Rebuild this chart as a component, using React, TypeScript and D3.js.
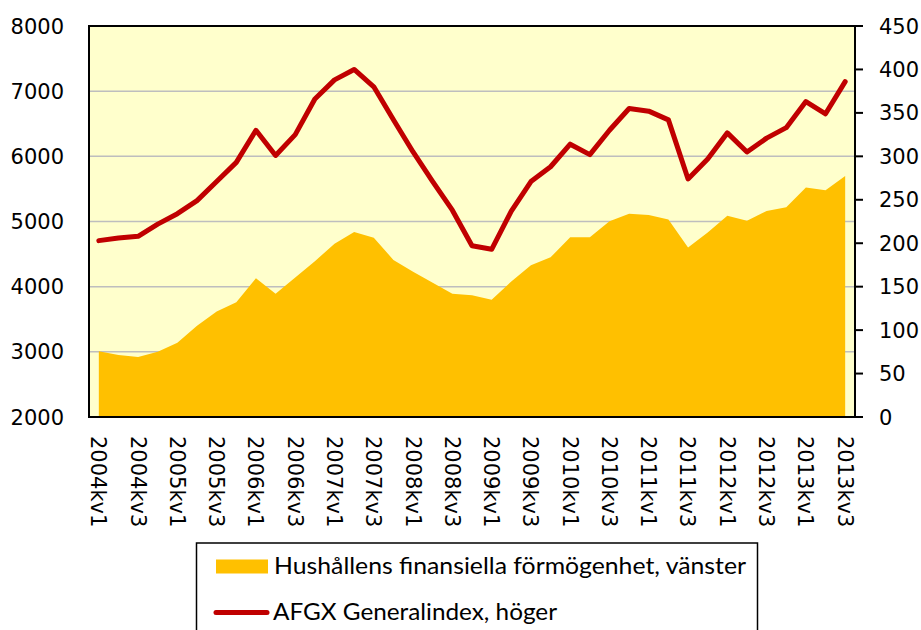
import React from "react";
import * as d3 from "d3";

const years = [2004, 2005, 2006, 2007, 2008, 2009, 2010, 2011, 2012, 2013];
const categories: string[] = [];
years.forEach((y) => [1, 2, 3, 4].forEach((q) => categories.push(`${y}kv${q}`)));
const quarters = categories.slice(0, 39);

const wealth = [
  3010, 2950, 2920, 3000, 3140, 3400, 3620, 3760, 4130, 3890,
  4140, 4390, 4660, 4840, 4750, 4410, 4230, 4060, 3890, 3870,
  3800, 4080, 4330, 4450, 4760, 4760, 5005, 5120, 5100, 5030,
  4600, 4830, 5090, 5010, 5160, 5220, 5520, 5480, 5700,
];
const afgx = [
  203, 206, 208, 222, 234, 249, 271, 293, 330, 301,
  325, 366, 388, 400, 380, 342, 305, 271, 238, 197,
  193, 237, 271, 288, 314, 302, 330, 355, 352, 342,
  274, 297, 327, 305, 321, 333, 363, 349, 386,
];
const leftTicks = [2000, 3000, 4000, 5000, 6000, 7000, 8000];
const rightTicks = [0, 50, 100, 150, 200, 250, 300, 350, 400, 450];
const legendLabels = ["Hushållens finansiella förmögenhet, vänster", "AFGX Generalindex, höger"];

const W = 921, H = 630;
const L = 89, R = 855, T = 26, B = 417;
const tickFont = "'DejaVu Sans', Verdana, sans-serif";
const legendFont = "Lato, 'Open Sans', sans-serif";

export default function App() {
  const x = d3.scaleBand<string>().domain(quarters).range([L, R]).padding(0);
  const cx = (i: number) => (x(quarters[i]) as number) + x.bandwidth() / 2;
  const yL = d3.scaleLinear().domain([2000, 8000]).range([B, T]);
  const yR = d3.scaleLinear().domain([0, 450]).range([B, T]);

  const area = d3
    .area<number>()
    .x((_, i) => cx(i))
    .y0(B)
    .y1((d) => yL(d));
  const line = d3
    .line<number>()
    .x((_, i) => cx(i))
    .y((d) => yR(d));

  return (
    <svg width={W} height={H} style={{ position: "absolute", left: 0, top: 0 }}>
      <rect x={0} y={0} width={W} height={H} fill="#ffffff" />
      <rect x={L} y={T} width={R - L} height={B - T} fill="#FFFFCC" />
      {leftTicks.slice(1, -1).map((t) => (
        <line key={t} x1={L} x2={R} y1={yL(t)} y2={yL(t)} stroke="#BEBEBE" strokeWidth={1.5} />
      ))}
      <path d={area(wealth) || ""} fill="#FFC000" />
      <path d={line(afgx) || ""} fill="none" stroke="#C00000" strokeWidth={5} strokeLinejoin="round" strokeLinecap="round" />
      <rect x={L} y={T} width={R - L} height={B - T} fill="none" stroke="#000" strokeWidth={2} />
      {rightTicks.map((t) => (
        <line key={t} x1={R} x2={R + 8} y1={yR(t)} y2={yR(t)} stroke="#000" strokeWidth={2} />
      ))}
      {leftTicks.map((t) => (
        <text key={t} x={64} y={yL(t)} dy="0.36em" textAnchor="end" fontFamily={tickFont} fontSize={21} fill="#000">
          {t}
        </text>
      ))}
      {rightTicks.map((t) => (
        <text key={t} x={879} y={yR(t)} dy="0.36em" textAnchor="start" fontFamily={tickFont} fontSize={21} fill="#000">
          {t}
        </text>
      ))}
      {quarters.map((q, i) =>
        i % 2 === 0 ? (
          <text
            key={q}
            transform={`translate(${cx(i)},${436}) rotate(90)`}
            dy="0.36em"
            textAnchor="start"
            fontFamily={tickFont}
            fontSize={21}
            fill="#000"
          >
            {q}
          </text>
        ) : null
      )}
      <rect x={196.5} y={543} width={561} height={100} fill="#fff" stroke="#000" strokeWidth={1.5} />
      <rect x={216} y={559.5} width={52} height={14} fill="#FFC000" />
      <text x={274} y={574} fontFamily={legendFont} fontSize={24} fill="#000" textLength={472} lengthAdjust="spacingAndGlyphs">
        {legendLabels[0]}
      </text>
      <line x1={216} x2={267} y1={612.5} y2={612.5} stroke="#C00000" strokeWidth={5} strokeLinecap="round" />
      <text x={273} y={620} fontFamily={legendFont} fontSize={24} fill="#000" textLength={284} lengthAdjust="spacingAndGlyphs">
        {legendLabels[1]}
      </text>
    </svg>
  );
}
